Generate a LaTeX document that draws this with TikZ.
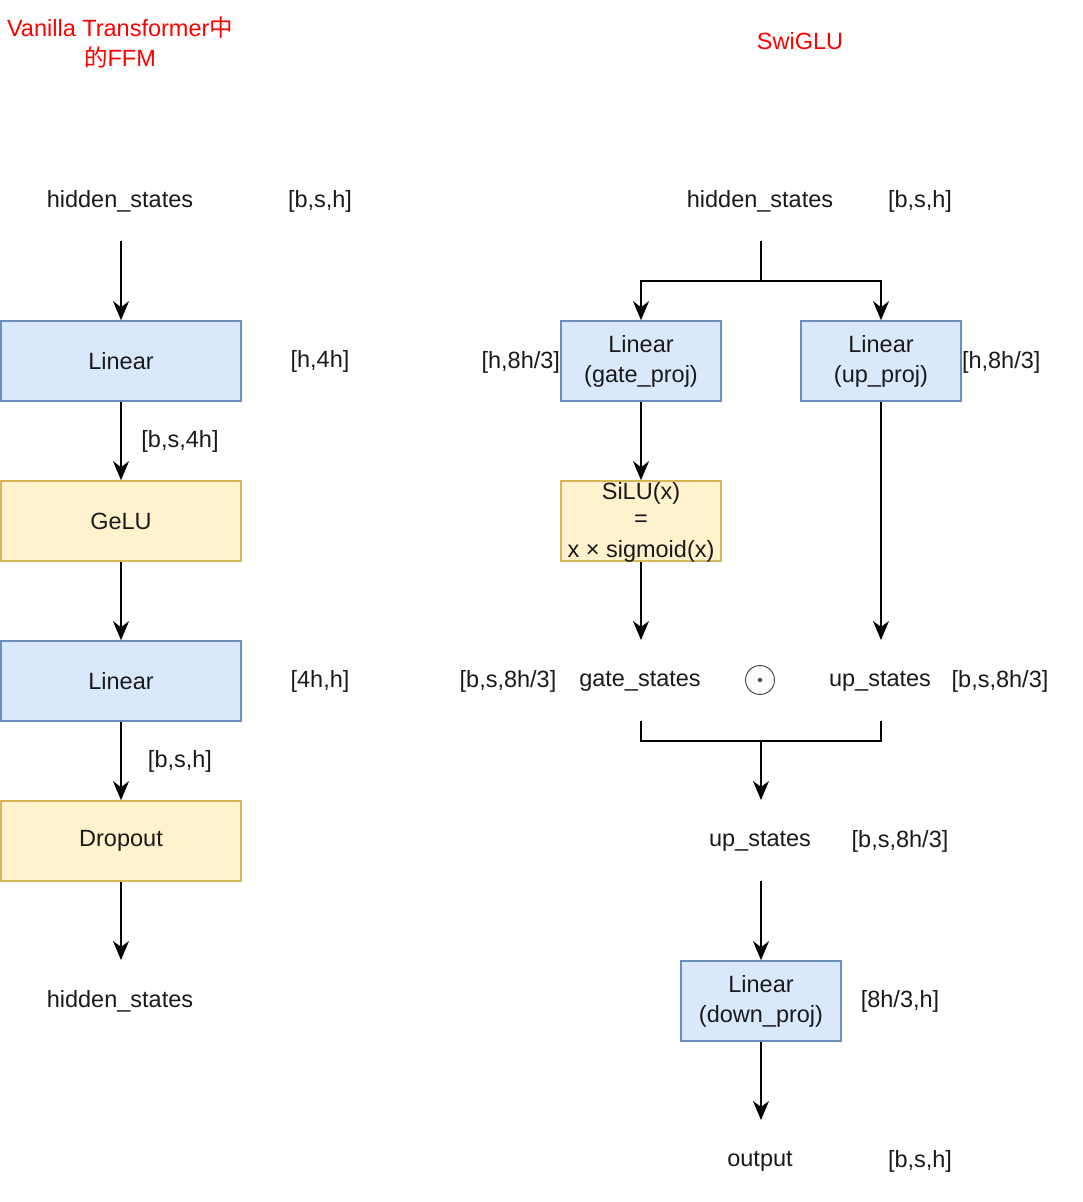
\documentclass[tikz,border=0pt]{standalone}
\usepackage{fontspec}
\setmainfont{Liberation Sans}
\newfontfamily\cjk{Noto Sans CJK SC}
\usetikzlibrary{arrows.meta}
\definecolor{blueFill}{HTML}{DAE8FC}
\definecolor{blueLine}{HTML}{6C8EBF}
\definecolor{yelFill}{HTML}{FFF2CC}
\definecolor{yelLine}{HTML}{D6B656}
\definecolor{ink}{HTML}{1A1A1A}
\definecolor{odotgray}{HTML}{4D4D4D}
\begin{document}
\begin{tikzpicture}[x=1pt,y=-1pt,
  every node/.style={font=\fontsize{23.5}{30}\selectfont, text=ink, align=center, inner sep=0pt},
  bluebox/.style={draw=blueLine, fill=blueFill, line width=1.6pt, minimum height=80pt},
  yelbox/.style={draw=yelLine, fill=yelFill, line width=1.6pt, minimum height=80pt},
  label/.style={minimum height=80pt, minimum width=120pt},
  dim/.style={},
  title/.style={text=red},
  flow/.style={line width=1.8pt, -{Stealth[length=19pt,width=16pt,inset=6pt]}},
  plain/.style={line width=1.8pt},
]
\useasboundingbox (0,0) rectangle (1082,1202);

% ---------------- left column: vanilla FFN ----------------
\node[title] (t1) at (120,42) {Vanilla Transformer{\cjk 中}\\{\cjk 的}FFM};

\node[label] (hsL) at (120,201) {hidden\_states};
\node[dim] at (320,201) {[b,s,h]};

\node[bluebox, minimum width=240pt] (lin1) at (121,361) {Linear};
\node[dim] at (320,361) {[h,4h]};

\node[yelbox, minimum width=240pt] (gelu) at (121,521) {GeLU};
\node[dim] at (180,441) {[b,s,4h]};

\node[bluebox, minimum width=240pt] (lin2) at (121,681) {Linear};
\node[dim] at (320,681) {[4h,h]};

\node[yelbox, minimum width=240pt] (drop) at (121,841) {Dropout};
\node[dim] at (180,761) {[b,s,h]};

\node[label] (outL) at (120,1001) {hidden\_states};

\draw[flow] (121,241) -- (lin1.north);
\draw[flow] (lin1.south) -- (gelu.north);
\draw[flow] (gelu.south) -- (lin2.north);
\draw[flow] (lin2.south) -- (drop.north);
\draw[flow] (drop.south) -- (121,960);

% ---------------- right column: SwiGLU ----------------
\node[title] (t2) at (800,41) {SwiGLU};

\node[label] (hsR) at (760,201) {hidden\_states};
\node[dim] at (920,201) {[b,s,h]};

\node[bluebox, minimum width=160pt] (gate) at (641,361) {Linear\\(gate\_proj)};
\node[dim, anchor=east] at ([yshift=-1pt]gate.west) {[h,8h/3]};
\node[bluebox, minimum width=160pt] (up) at (881,361) {Linear\\(up\_proj)};
\node[dim, anchor=west] at ([yshift=-1pt]up.east) {[h,8h/3]};

\node[yelbox, minimum width=160pt] (silu) at (641,521) {};
\node at (641,493) {SiLU(x)};
\node at (641,521) {=};
\node at (641,551) {x × sigmoid(x)};

\node[label] (gs) at (640,681) {gate\_states};
\node[dim] at (508,681) {[b,s,8h/3]};
\node[label] (us) at (880,681) {up\_states};
\node[dim] at (1000,681) {[b,s,8h/3]};
\node[circle, draw=odotgray, line width=1pt, minimum size=29pt] (odot) at (760,680) {};
\fill[odotgray] (odot.center) circle (2.2pt);

\node[label] (us2) at (760,841) {up\_states};
\node[dim] at (900,841) {[b,s,8h/3]};

\node[bluebox, minimum width=160pt] (down) at (761,1001) {Linear\\(down\_proj)};
\node[dim] at (900,1001) {[8h/3,h]};

\node[label] (out) at (760,1161) {output};
\node[dim] at (920,1161) {[b,s,h]};

% split of the input into the two projections
\coordinate (split) at (761,281);
\draw[plain] (761,241) -- (split);
\draw[flow] (split) -| (gate.north);
\draw[flow] (split) -| (up.north);

\draw[flow] (gate.south) -- (silu.north);
\draw[flow] (silu.south) -- (641,640);
\draw[flow] (up.south) -- (881,640);

% element-wise product joins both branches
\coordinate (join) at (761,741);
\draw[plain] (641,721) -- (641,741) -- (881,741) -- (881,721);
\draw[flow] (join) -- (761,800);

\draw[flow] (761,881) -- (down.north);
\draw[flow] (down.south) -- (761,1120);
\end{tikzpicture}
\end{document}
